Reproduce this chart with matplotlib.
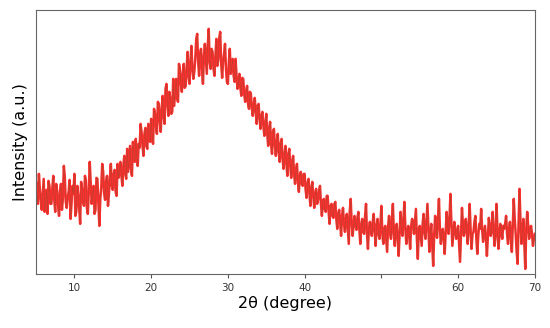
import numpy as np
import matplotlib
matplotlib.use('Agg')
import matplotlib.pyplot as plt

# intensity (a.u.) at 2theta = 5, 5.25, ... 70
intensity_main = [
    92, 70, 85, 64,   95, 72, 60, 88,   70, 98, 62, 83,   58, 90, 75, 97,    # 5-8
    66, 82, 55, 88,   100, 62, 79, 50,  85, 68, 93, 60,   112, 70, 88, 64,   # 9-12
    95, 48, 86, 102,  74, 98, 80, 110,  84, 104, 78, 96,  112, 88, 118, 95,  # 13-16
    102, 128, 98, 120, 135, 108, 126, 142, 118, 146, 125, 138, 155, 130, 160, 140,  # 17-20
    170, 142, 178, 150, 190, 158, 175, 162, 168, 195, 172, 205, 182, 210, 188, 222,  # 21-24
    190, 228, 195, 215, 240, 198, 225, 190, 230, 200, 245, 205, 222, 198, 235, 214,  # 25-28
    242, 196, 220, 205, 190, 225, 208, 198, 215, 185, 200, 178, 195, 172, 188, 165,  # 29-32
    180, 158, 176, 150, 170, 145, 162, 138, 160, 128, 152, 120, 145, 118, 140, 112,  # 33-36
    135, 105, 128, 98, 125, 96, 118, 90,  110, 82, 102, 88,  100, 76, 95, 68,      # 37-40
    92, 66, 85, 74,   88, 58, 75, 62,   78, 50, 70, 56,   72, 45, 64, 38,    # 41-44
    66, 42, 60, 30,   75, 38, 58, 44,   62, 30, 55, 40,   70, 25, 52, 38,    # 45-48
    60, 28, 55, 35,   68, 30, 48, 22,   58, 35, 70, 28,   50, 18, 62, 38,    # 49-52
    72, 30, 48, 25,   55, 40, 65, 15,   48, 28, 60, 35,   70, 22, 50, 8,     # 53-56
    58, 36, 75, 30,   45, 20, 62, 40,   80, 28, 52, 35,   48, 12, 66, 38,    # 57-60
    55, 30, 70, 25,   42, 58, 20, 50,   65, 32, 48, 18,   56, 38, 62, 28,    # 61-64
    70, 25, 50, 35,   45, 58, 30, 52,   22, 75, 40, 10,   85, 30, 55, 5,     # 65-68
    62, 35, 48, 28,   40,                                                     # 69-70
]
# intensity at the in-between points 5.125, 5.375, ... 69.875
intensity_mid = [
    78, 100, 73, 80,  62, 84, 93, 70,   86, 74, 90, 68,   82, 64, 108, 72,   # 5-8
    76, 94, 70, 80,   58, 88, 66, 92,   72, 98, 66, 82,   90, 78, 60, 96,   # 9-12
    70, 75, 110, 80,  92, 68, 96, 88,   100, 82, 110, 102, 98, 108, 100, 125,  # 13-16
    115, 105, 132, 112, 118, 130, 150, 128, 140, 128, 150, 132, 138, 165, 148, 172,  # 17-20
    152, 165, 158, 185, 170, 182, 160, 195, 182, 176, 210, 190, 200, 186, 205, 198,  # 21-24
    212, 205, 202, 235, 212, 220, 205, 218, 215, 228, 212, 225, 205, 218, 208, 236,  # 25-28
    210, 212, 230, 192, 212, 200, 215, 192, 198, 190, 186, 196, 180, 182, 170, 182,  # 29-32
    165, 170, 162, 168, 155, 158, 148, 150, 140, 145, 130, 142, 128, 132, 122, 130,  # 33-36
    115, 118, 110, 120, 108, 112, 100, 104, 92, 98, 90, 100,  84, 90, 80, 86,    # 37-40
    78, 80, 70, 82,   70, 72, 65, 78,   62, 68, 58, 70,   55, 60, 52, 58,    # 41-44
    50, 55, 45, 62,   52, 48, 50, 56,   45, 48, 42, 58,   40, 46, 44, 52,    # 45-48
    42, 48, 40, 50,   40, 45, 35, 48,   42, 55, 40, 48,   35, 40, 45, 55,    # 49-52
    45, 42, 38, 48,   50, 52, 35, 45,   38, 50, 42, 52,   45, 40, 30, 38,    # 53-56
    48, 55, 45, 40,   35, 42, 48, 56,   50, 40, 44, 42,   30, 40, 50, 45,    # 57-60
    42, 48, 45, 40,   52, 35, 38, 45,   45, 40, 35, 38,   48, 45, 42, 40,    # 61-64
    45, 38, 42, 48,   50, 40, 45, 35,   48, 55, 22, 50,   52, 40, 30, 45,    # 65-68
    48, 42, 40, 35,                                                           # 69
]

# merge both readings into one 0.125 degree trace
two_theta = np.arange(5.0, 70.001, 0.125)
intensity = np.empty(len(two_theta))
intensity[0::2] = intensity_main
intensity[1::2] = intensity_mid

fig = plt.figure(figsize=(5.5, 3.28), dpi=100)
ax = fig.add_axes([0.0655, 0.165, 0.907, 0.805])

ax.plot(two_theta, intensity, color='#ff0a0a', lw=1.8, alpha=0.85)
ax.plot(two_theta, intensity, color='#8b4a2b', lw=0.45, alpha=0.6)

ax.set_xlim(5, 70)
ax.set_ylim(0, 264)
ax.set_xticks([10, 20, 30, 40, 50, 60, 70])
ax.set_xticklabels(['10', '20', '30', '40', '', '60', '70'])
ax.set_yticks([])
ax.tick_params(axis='x', labelsize=7.5, labelcolor='#333333', color='#555555', length=3)
for s in ax.spines.values():
    s.set_color('#666666')

ax.set_xlabel('2θ (degree)', fontsize=11.5, labelpad=2)
ax.set_ylabel('Intensity (a.u.)', fontsize=11.5, labelpad=6)

fig.savefig('out.png', dpi=100)
